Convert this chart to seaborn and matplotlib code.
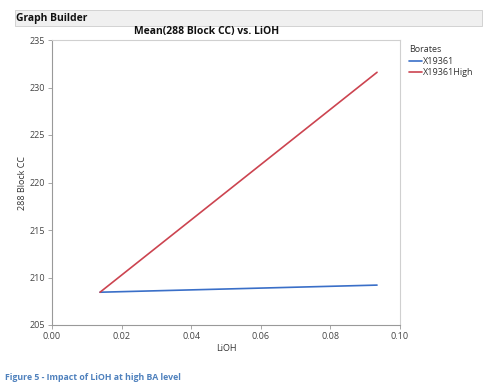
import matplotlib
matplotlib.use("Agg")
import matplotlib.pyplot as plt
import matplotlib.patches as mpatches
import pandas as pd
import seaborn as sns

# values
lioh = [0.0138, 0.0934]
x19361 = [208.45, 209.2]
x19361_high = [208.45, 231.6]
groups = ["X19361", "X19361High"]

df = pd.DataFrame({
    "LiOH": lioh + lioh,
    "288 Block CC": x19361 + x19361_high,
    "Borates": [groups[0]] * 2 + [groups[1]] * 2,
})

sns.set_style("white")
plt.rcParams['font.family'] = ['Open Sans', 'DejaVu Sans']

fig = plt.figure(figsize=(4.94, 3.91), dpi=100)
ax = fig.add_axes([52 / 494, 1 - 325 / 391, 348 / 494, 285 / 391])

sns.lineplot(data=df, x="LiOH", y="288 Block CC", hue="Borates",
             palette={"X19361": "#3a6fc8", "X19361High": "#cc4450"},
             linewidth=1.2, ax=ax)

ax.set_xlim(0, 0.1)
ax.set_ylim(205, 235)
ax.set_xticks([0, 0.02, 0.04, 0.06, 0.08, 0.10])
ax.set_xticklabels(["0.00", "0.02", "0.04", "0.06", "0.08", "0.10"])
ax.set_yticks(range(205, 236, 5))
ax.tick_params(axis="both", labelsize=6.5, colors="#444444", length=3,
               width=0.6, direction="out", bottom=True, left=True, pad=2)
ax.tick_params(axis="both", color="#999999")
for side in ["left", "bottom"]:
    ax.spines[side].set_color("#999999")
    ax.spines[side].set_linewidth(0.8)
for side in ["top", "right"]:
    ax.spines[side].set_color("#d0d0d0")
    ax.spines[side].set_linewidth(0.8)
ax.set_xlabel("LiOH", fontsize=6.5, color="#333333", labelpad=2)
ax.set_ylabel("288 Block CC", fontsize=6.5, color="#333333", labelpad=2)

leg = ax.legend(title="Borates", loc="upper left", bbox_to_anchor=(1.01, 1.0),
                frameon=False, fontsize=6.5, title_fontsize=6.5,
                handlelength=1.4, handletextpad=0.2, borderaxespad=0.2,
                labelspacing=0.25)
leg._legend_box.align = "left"
for t in leg.get_texts():
    t.set_color("#333333")
leg.get_title().set_color("#333333")

# header bar
fig.patches.append(mpatches.Rectangle((15 / 494, 1 - 26 / 391), 467 / 494, 16 / 391,
                                      transform=fig.transFigure, facecolor="#f0f0f0",
                                      edgecolor="#cccccc", linewidth=0.6))
fig.text(16 / 494, 1 - 18 / 391, "Graph Builder", fontsize=7.5, fontweight="bold",
         va="center", ha="left", color="#111111")
fig.text(207 / 494, 1 - 31.5 / 391, "Mean(288 Block CC) vs. LiOH", fontsize=7.5,
         fontweight="bold", va="center", ha="center", color="#111111")
fig.text(5 / 494, 1 - 378 / 391, "Figure 5 - Impact of LiOH at high BA level",
         fontsize=6.3, fontweight="bold", va="center", ha="left", color="#4f81bd")

fig.savefig("out.png", dpi=100)
